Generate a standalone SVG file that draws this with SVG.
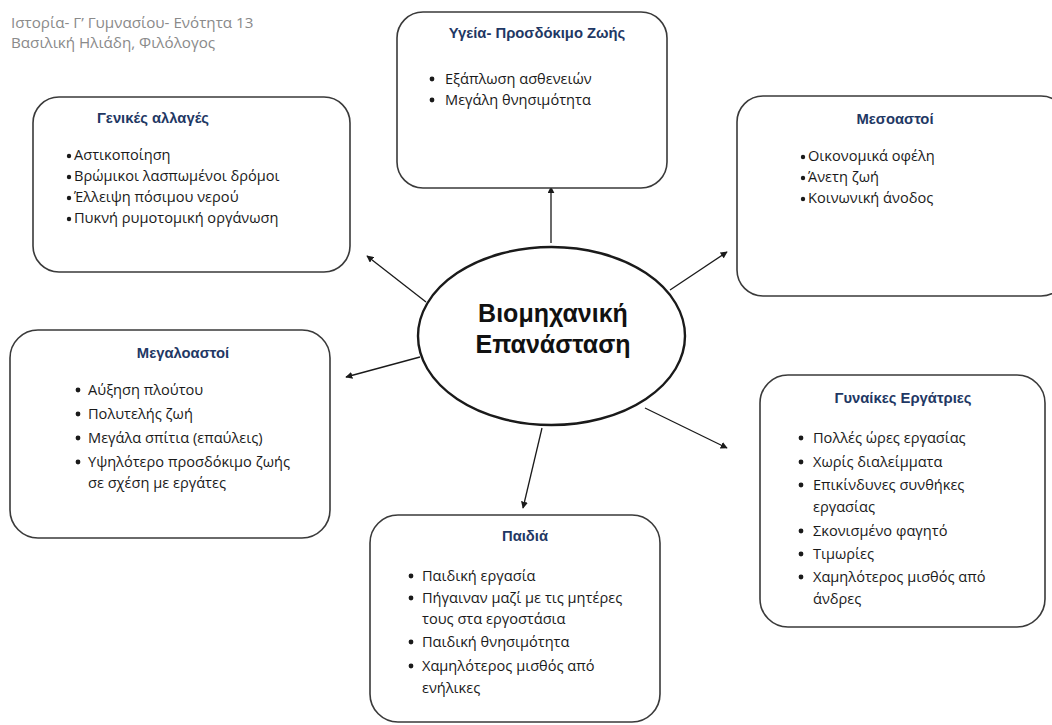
<svg xmlns="http://www.w3.org/2000/svg" width="1052" height="725" viewBox="0 0 1052 725">
  <style>
    .box { fill: #ffffff; stroke: #3a3a3a; stroke-width: 1.6; }
    .hub { fill: #ffffff; stroke: #1a1a1a; stroke-width: 2.4; }
    .title { font-family: "Liberation Sans", Arial, sans-serif; font-size: 14.8px; font-weight: bold; fill: #1f3864; text-anchor: middle; }
    .item { font-family: "Open Sans", "Liberation Sans", sans-serif; font-size: 14.6px; fill: #1a1a1a; }
    .dot { fill: #1a1a1a; }
    .hubtext { font-family: "Liberation Sans", Arial, sans-serif; font-size: 25px; font-weight: bold; fill: #111111; text-anchor: middle; }
    .head { font-family: "Open Sans", "Liberation Sans", sans-serif; font-size: 15.2px; fill: #8a8a8a; }
    .link { stroke: #1a1a1a; stroke-width: 1.3; fill: none; marker-end: url(#tip); }
  </style>
  <defs>
    <marker id="tip" viewBox="0 0 10 10" refX="9" refY="5" markerWidth="7" markerHeight="7" orient="auto" markerUnits="userSpaceOnUse">
      <path d="M0,0 L10,5 L0,10 z" fill="#1a1a1a"/>
    </marker>
  </defs>
  <rect width="1052" height="725" fill="#ffffff"/>

  <g id="header">
    <text class="head" x="11" y="28">Ιστορία- Γ’ Γυμνασίου- Ενότητα 13</text>
    <text class="head" x="11" y="48">Βασιλική Ηλιάδη, Φιλόλογος</text>
  </g>

  <g id="connectors">
    <line class="link" x1="551" y1="243" x2="551" y2="187"/>
    <line class="link" x1="426" y1="302" x2="367" y2="256"/>
    <line class="link" x1="670" y1="290" x2="727" y2="252"/>
    <line class="link" x1="420" y1="357" x2="346" y2="377"/>
    <line class="link" x1="645" y1="408" x2="727" y2="448"/>
    <line class="link" x1="542" y1="428" x2="523" y2="508"/>
  </g>

  <g id="hub">
    <ellipse class="hub" cx="551.5" cy="336" rx="133.5" ry="89"/>
    <text class="hubtext" x="553" y="322">Βιομηχανική</text>
    <text class="hubtext" x="553" y="353">Επανάσταση</text>
  </g>

  <g id="general-changes">
    <rect class="box" x="33" y="97" width="317" height="175" rx="26"/>
    <text class="title" x="153" y="123">Γενικές αλλαγές</text>
    <circle class="dot" cx="69" cy="156" r="2.2"/>
    <text class="item" x="74" y="160">Αστικοποίηση</text>
    <circle class="dot" cx="69" cy="177" r="2.2"/>
    <text class="item" x="74" y="181">Βρώμικοι λασπωμένοι δρόμοι</text>
    <circle class="dot" cx="69" cy="198" r="2.2"/>
    <text class="item" x="74" y="202">Έλλειψη πόσιμου νερού</text>
    <circle class="dot" cx="69" cy="219" r="2.2"/>
    <text class="item" x="74" y="223">Πυκνή ρυμοτομική οργάνωση</text>
  </g>

  <g id="health">
    <rect class="box" x="397" y="12" width="270" height="176" rx="26"/>
    <text class="title" x="537" y="38">Υγεία- Προσδόκιμο Ζωής</text>
    <circle class="dot" cx="432" cy="79" r="2.4"/>
    <text class="item" x="445" y="84">Εξάπλωση ασθενειών</text>
    <circle class="dot" cx="432" cy="100" r="2.4"/>
    <text class="item" x="445" y="105">Μεγάλη θνησιμότητα</text>
  </g>

  <g id="middle-class">
    <rect class="box" x="737" y="96" width="330" height="200" rx="26"/>
    <text class="title" x="895" y="124">Μεσοαστοί</text>
    <circle class="dot" cx="803" cy="157" r="2.2"/>
    <text class="item" x="808" y="161">Οικονομικά οφέλη</text>
    <circle class="dot" cx="803" cy="178" r="2.2"/>
    <text class="item" x="808" y="182">Άνετη ζωή</text>
    <circle class="dot" cx="803" cy="199" r="2.2"/>
    <text class="item" x="808" y="203">Κοινωνική άνοδος</text>
  </g>

  <g id="upper-class">
    <rect class="box" x="10" y="330" width="320" height="208" rx="28"/>
    <text class="title" x="183" y="358">Μεγαλοαστοί</text>
    <circle class="dot" cx="78" cy="390" r="2.4"/>
    <text class="item" x="88" y="395">Αύξηση πλούτου</text>
    <circle class="dot" cx="78" cy="414" r="2.4"/>
    <text class="item" x="88" y="419">Πολυτελής ζωή</text>
    <circle class="dot" cx="78" cy="438" r="2.4"/>
    <text class="item" x="88" y="443">Μεγάλα σπίτια (επαύλεις)</text>
    <circle class="dot" cx="78" cy="462" r="2.4"/>
    <text class="item" x="88" y="467">Υψηλότερο προσδόκιμο ζωής</text>
    <text class="item" x="88" y="488">σε σχέση με εργάτες</text>
  </g>

  <g id="women-workers">
    <rect class="box" x="760" y="375" width="285" height="252" rx="28"/>
    <text class="title" x="903" y="403">Γυναίκες Εργάτριες</text>
    <circle class="dot" cx="801" cy="438" r="2.4"/>
    <text class="item" x="813" y="443">Πολλές ώρες εργασίας</text>
    <circle class="dot" cx="801" cy="462" r="2.4"/>
    <text class="item" x="813" y="467">Χωρίς διαλείμματα</text>
    <circle class="dot" cx="801" cy="485" r="2.4"/>
    <text class="item" x="813" y="490">Επικίνδυνες συνθήκες</text>
    <text class="item" x="813" y="512">εργασίας</text>
    <circle class="dot" cx="801" cy="531" r="2.4"/>
    <text class="item" x="813" y="536">Σκονισμένο φαγητό</text>
    <circle class="dot" cx="801" cy="554" r="2.4"/>
    <text class="item" x="813" y="559">Τιμωρίες</text>
    <circle class="dot" cx="801" cy="577" r="2.4"/>
    <text class="item" x="813" y="582">Χαμηλότερος μισθός από</text>
    <text class="item" x="813" y="604">άνδρες</text>
  </g>

  <g id="children">
    <rect class="box" x="370" y="515" width="290" height="207" rx="28"/>
    <text class="title" x="525" y="541">Παιδιά</text>
    <circle class="dot" cx="411" cy="576" r="2.4"/>
    <text class="item" x="422" y="581">Παιδική εργασία</text>
    <circle class="dot" cx="411" cy="598" r="2.4"/>
    <text class="item" x="422" y="603">Πήγαιναν μαζί με τις μητέρες</text>
    <text class="item" x="422" y="624">τους στα εργοστάσια</text>
    <circle class="dot" cx="411" cy="642" r="2.4"/>
    <text class="item" x="422" y="647">Παιδική θνησιμότητα</text>
    <circle class="dot" cx="411" cy="666" r="2.4"/>
    <text class="item" x="422" y="671">Χαμηλότερος μισθός από</text>
    <text class="item" x="422" y="693">ενήλικες</text>
  </g>
</svg>
